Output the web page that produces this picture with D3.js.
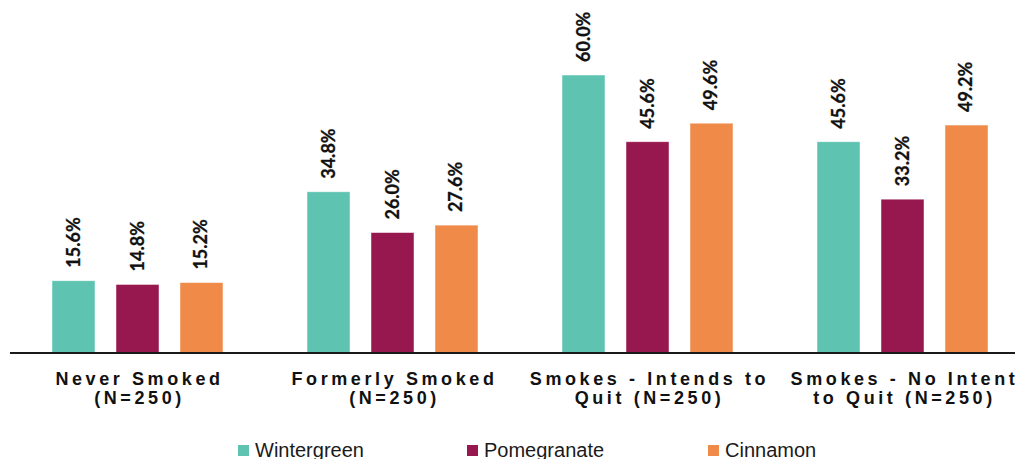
<!DOCTYPE html>
<html>
<head>
<meta charset="utf-8">
<script src="https://cdn.jsdelivr.net/npm/d3@7"></script>
<style>
  html, body { margin: 0; padding: 0; background: #fff; }
  svg { display: block; }
</style>
</head>
<body>
<svg id="chart" width="1015" height="459"></svg>
<script>
// Smoking status groups (two-line axis labels)
const categories = ["Never Smoked", "Formerly Smoked", "Smokes - Intends to Quit", "Smokes - No Intent to Quit"];
const categoryLines = [
  ["Never Smoked", "(N=250)"],
  ["Formerly Smoked", "(N=250)"],
  ["Smokes - Intends to", "Quit (N=250)"],
  ["Smokes - No Intent", "to Quit (N=250)"]
];
// Flavours and their share (%) in each group
const seriesNames = ["Wintergreen", "Pomegranate", "Cinnamon"];
const wintergreen = [15.6, 34.8, 60.0, 45.6];
const pomegranate = [14.8, 26.0, 45.6, 33.2];
const cinnamon    = [15.2, 27.6, 49.6, 49.2];
const seriesValues = [wintergreen, pomegranate, cinnamon];
const colors = ["#5EC4B1", "#97174F", "#F08A48"];

const svg = d3.select("#chart");

const x0 = d3.scaleBand().domain(categories).range([10, 1030]).padding(0);
const x1 = d3.scaleBand().domain(seriesNames).range([42, 213]).paddingInner(0.328).paddingOuter(0);
const y = d3.scaleLinear().domain([0, 60]).range([353, 75]);
const color = d3.scaleOrdinal().domain(seriesNames).range(colors);

const rows = categories.map((c, i) => ({
  category: c,
  values: seriesNames.map((s, j) => ({ series: s, value: seriesValues[j][i] }))
}));

const groups = svg.append("g").selectAll("g")
  .data(rows)
  .join("g")
  .attr("transform", d => `translate(${x0(d.category)},0)`);

groups.selectAll("rect")
  .data(d => d.values)
  .join("rect")
  .attr("x", d => x1(d.series))
  .attr("y", d => y(d.value))
  .attr("width", x1.bandwidth())
  .attr("height", d => y(0) - y(d.value))
  .attr("fill", d => color(d.series))
  .attr("stroke", "#ffffff")
  .attr("stroke-opacity", 0.6)
  .attr("stroke-width", 0.8);

// Rotated value labels above each bar
groups.selectAll("text.value")
  .data(d => d.values)
  .join("text")
  .attr("class", "value")
  .attr("transform", d => `translate(${x1(d.series) + x1.bandwidth() / 2 + 6},${y(d.value) - 13}) rotate(-90)`)
  .attr("text-anchor", "start")
  .attr("font-family", "Lato, 'Open Sans', sans-serif")
  .attr("font-weight", "bold")
  .attr("font-size", "18px")
  .attr("fill", "#111")
  .attr("stroke", "#111")
  .attr("stroke-width", 0.3)
  .text(d => d.value.toFixed(1) + "%");

// Category axis
const axis = svg.append("g")
  .attr("transform", `translate(0,${y(0)})`)
  .call(d3.axisBottom(x0).tickSize(0).tickFormat(""));
axis.select(".domain").remove();
axis.append("line")
  .attr("x1", 10).attr("x2", 1015)
  .attr("y1", 0).attr("y2", 0)
  .attr("stroke", "#1a1a1a")
  .attr("stroke-width", 2);

axis.selectAll(".tick text").remove();
axis.selectAll(".tick")
  .append("text")
  .attr("text-anchor", "middle")
  .attr("font-family", "'Liberation Sans', Arial, sans-serif")
  .attr("font-weight", "bold")
  .attr("font-size", "18px")
  .attr("letter-spacing", "3.6px")
  .attr("fill", "#111")
  .selectAll("tspan")
  .data((d, i) => categoryLines[i])
  .join("tspan")
  .attr("x", 2)
  .attr("y", (d, k) => 32 + k * 19)
  .text(d => d);

// Legend
const legendX = [238, 467, 708];
const legend = svg.append("g").selectAll("g")
  .data(seriesNames)
  .join("g")
  .attr("transform", (d, i) => `translate(${legendX[i]},445)`);
legend.append("rect")
  .attr("width", 11).attr("height", 11)
  .attr("fill", d => color(d));
legend.append("text")
  .attr("x", 17).attr("y", 12)
  .attr("font-family", "'Liberation Sans', Arial, sans-serif")
  .attr("font-size", "20px")
  .attr("fill", "#1a1a1a")
  .text(d => d);
</script>
</body>
</html>
